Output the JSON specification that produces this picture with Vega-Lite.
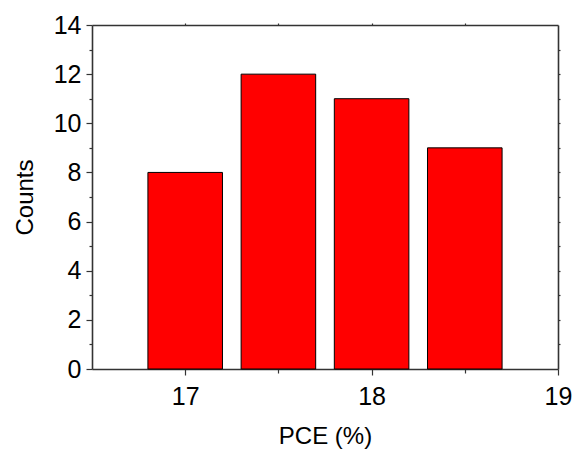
{
  "$schema": "https://vega.github.io/schema/vega-lite/v6.json",
  "width": 466,
  "height": 344,
  "autosize": {"type": "none"},
  "padding": {"left": 92, "top": 25, "right": 15, "bottom": 82},
  "background": "white",
  "config": {
    "view": {"stroke": null},
    "font": "Liberation Sans",
    "axis": {"grid": false, "domainColor": "#333333", "domainWidth": 1.6, "tickColor": "#333333", "tickWidth": 1.2, "labelColor": "black", "titleColor": "black", "labelFont": "Liberation Sans", "titleFont": "Liberation Sans", "labelFontSize": 25, "titleFontSize": 24, "titleFontWeight": "normal"}
  },
  "data": {
    "values": [
      {"start": 16.8, "end": 17.2, "count": 8},
      {"start": 17.3, "end": 17.7, "count": 12},
      {"start": 17.8, "end": 18.2, "count": 11},
      {"start": 18.3, "end": 18.7, "count": 9}
    ]
  },
  "layer": [
    {
      "mark": {"type": "bar", "fill": "#ff0000", "stroke": "black", "strokeWidth": 1},
      "encoding": {
        "x": {
          "field": "start", "type": "quantitative",
          "scale": {"domain": [16.5, 19], "nice": false, "zero": false},
          "axis": {
            "orient": "bottom", "title": "PCE (%)", "titlePadding": 15,
            "values": [17, 17.5, 18, 18.5, 19],
            "labelExpr": "datum.value % 1 === 0 ? format(datum.value, 'd') : ''",
            "tickSize": {"condition": {"test": "datum.value % 1 === 0", "value": 6}, "value": 4},
            "labelPadding": 9, "labelFlush": false
          }
        },
        "x2": {"field": "end"},
        "y": {
          "field": "count", "type": "quantitative",
          "stack": null,
          "scale": {"domain": [0, 14], "nice": false},
          "axis": {
            "orient": "left", "title": "Counts", "titlePadding": 16,
            "values": [0, 1, 2, 3, 4, 5, 6, 7, 8, 9, 10, 11, 12, 13, 14],
            "labelExpr": "datum.value % 2 === 0 ? datum.label : ''",
            "tickSize": {"condition": {"test": "datum.value % 2 === 0", "value": 6}, "value": 3},
            "labelPadding": 5, "labelFlush": false
          }
        },
        "y2": {"datum": 0}
      }
    },
    {
      "mark": {"type": "bar", "opacity": 0},
      "encoding": {
        "x": {
          "field": "start", "type": "quantitative",
          "axis": {"orient": "top", "title": null, "labels": false, "values": [17, 17.5, 18, 18.5], "tickSize": 2}
        },
        "x2": {"field": "end"},
        "y": {
          "field": "count", "type": "quantitative",
          "stack": null,
          "axis": {"orient": "right", "title": null, "labels": false, "values": [1, 2, 3, 4, 5, 6, 7, 8, 9, 10, 11, 12, 13], "tickSize": 2}
        },
        "y2": {"datum": 0}
      }
    }
  ],
  "resolve": {"axis": {"x": "independent", "y": "independent"}}
}
